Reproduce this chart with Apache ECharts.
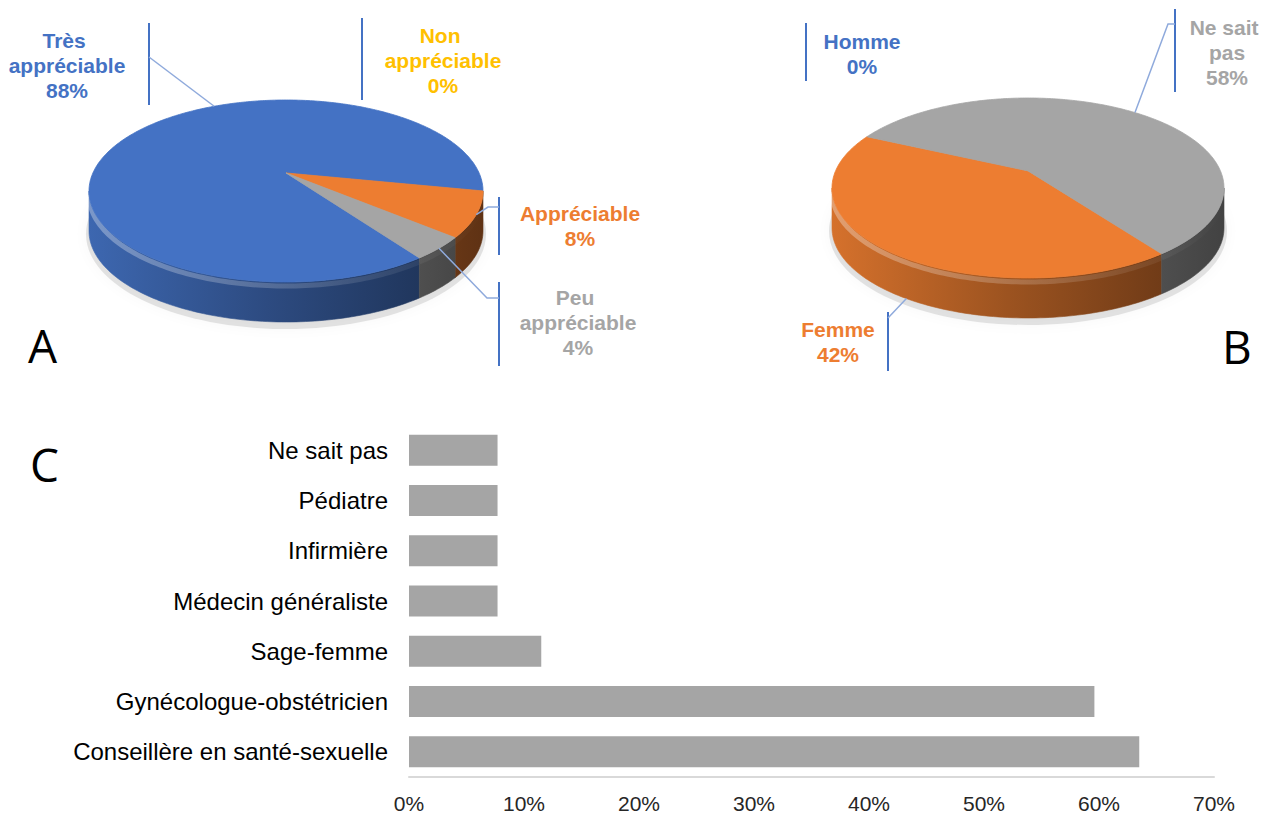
<!DOCTYPE html>
<html>
<head>
<meta charset="utf-8">
<script src="https://cdn.jsdelivr.net/npm/echarts@6/dist/echarts.min.js"></script>
<style>
  html, body { margin: 0; padding: 0; background: #ffffff; }
  #chart { width: 1272px; height: 814px; }
</style>
</head>
<body>
<div id="chart"></div>
<script>
// ---------------- DATA ----------------
const pieACategories = ['Très appréciable', 'Appréciable', 'Peu appréciable', 'Non appréciable'];
const pieAValues = [88, 8, 4, 0];
const pieAColors = ['#4472C4', '#ED7D31', '#A5A5A5', '#FFC000'];

const pieBCategories = ['Homme', 'Femme', 'Ne sait pas'];
const pieBValues = [0, 42, 58];
const pieBColors = ['#4472C4', '#ED7D31', '#A5A5A5'];

const barCategories = ['Conseillère en santé-sexuelle', 'Gynécologue-obstétricien', 'Sage-femme',
  'Médecin généraliste', 'Infirmière', 'Pédiatre', 'Ne sait pas'];
const barValues = [63.5, 59.6, 11.5, 7.7, 7.7, 7.7, 7.7];
const xAxisMin = 0, xAxisMax = 70, xAxisStep = 10;

const panelLetters = ['A', 'B', 'C'];

// ---------------- LAYOUT (positions / styles only) ----------------
// k = perspective strength of the tilted 3D pie
const pieAGeom = { cx: 286, cy: 191, rx: 197, ry: 91, depth: 40, k: 0.198, startDeg: 54.6 };
const pieBGeom = { cx: 1028, cy: 188, rx: 196, ry: 90, depth: 40, k: 0.19, startDeg: 54 };

const pieALabelLayout = [
  { tx: 67, ty: 65, w: 130, barX: 149, barY0: 23, barY1: 105, leadY: 57, anchorDeg: 244 },
  { tx: 580, ty: 226, w: 140, barX: 499, barY0: 197, barY1: 255, leadY: 207, elbowX: 488 },
  { tx: 578, ty: 322, w: 140, barX: 499, barY0: 282, barY1: 366, leadY: 298, elbowX: 487 },
  { tx: 443, ty: 60, w: 130, barX: 362, barY0: 18, barY1: 100 }
];
const pieBLabelLayout = [
  { tx: 862, ty: 54, w: 120, barX: 806, barY0: 23, barY1: 81 },
  { tx: 838, ty: 342, w: 120, barX: 888, barY0: 312, barY1: 371, leadY: 318, onBase: true, anchorDeg: 122 },
  { tx: 1227, ty: 52, w: 80, barX: 1175, barY0: 9, barY1: 92, leadY: 24, elbowX: 1168 }
];
const letterLayout = [
  { x: 28, y: 345 }, { x: 1222, y: 346 }, { x: 30, y: 464 }
];

const LABEL_FONT = '"Liberation Sans", Arial, Helvetica, sans-serif';

function shade(hex, f) {
  const n = parseInt(hex.slice(1), 16);
  const r = Math.min(255, Math.round(((n >> 16) & 255) * f));
  const g = Math.min(255, Math.round(((n >> 8) & 255) * f));
  const b = Math.min(255, Math.round((n & 255) * f));
  return 'rgb(' + r + ',' + g + ',' + b + ')';
}

function makePie3D(geom, names, values, colors, layout) {
  const total = values.reduce((a, b) => a + b, 0);
  const { cx, cy, rx, ry, depth, k } = geom;
  const a = rx * Math.sqrt(1 - k * k);
  // perspective projection of a point of the pie rim (angle t, clockwise from 3 o'clock)
  const pt = (t, dy) => {
    const s = Math.sin(t), c = Math.cos(t), w = 1 - k * s;
    return [cx + a * c / w, cy + ry * (s - k) / w + (dy || 0)];
  };
  const apex = [cx, cy - ry * k];
  const frontStart = Math.asin(k), frontEnd = Math.PI - Math.asin(k);
  return {
    type: 'custom',
    coordinateSystem: 'none',
    silent: true,
    animation: false,
    data: values.map(v => [v]),
    renderItem: function (params, api) {
      const i = params.dataIndex;
      const v = api.value(0);
      let before = 0;
      for (let j = 0; j < i; j++) before += values[j];
      const a0 = geom.startDeg * Math.PI / 180 + before / total * 2 * Math.PI;
      const a1 = a0 + v / total * 2 * Math.PI;
      const color = colors[i];
      const children = [];

      if (i === 0) {
        children.push({
          type: 'ellipse',
          shape: { cx: cx, cy: cy + depth + 3, rx: rx + 3, ry: ry + 4 },
          style: { fill: 'rgba(0,0,0,0.10)', shadowBlur: 12, shadowColor: 'rgba(0,0,0,0.30)' }
        });
      }

      if (v > 0) {
        const sideGrad = new echarts.graphic.LinearGradient(cx - rx, 0, cx + rx, 0, [
          { offset: 0, color: shade(color, 0.9) },
          { offset: 0.45, color: shade(color, 0.66) },
          { offset: 1, color: shade(color, 0.40) }
        ], true);
        const hlGrad = new echarts.graphic.LinearGradient(cx - rx, 0, cx + rx, 0, [
          { offset: 0, color: 'rgba(255,255,255,0.32)' },
          { offset: 0.5, color: 'rgba(255,255,255,0.18)' },
          { offset: 1, color: 'rgba(255,255,255,0.0)' }
        ], true);
        for (let m = -1; m <= 1; m++) {
          const s = Math.max(a0, 2 * Math.PI * m + frontStart);
          const e = Math.min(a1, 2 * Math.PI * m + frontEnd);
          if (e > s) {
            const top = [], bot = [];
            const n = Math.max(2, Math.ceil((e - s) / 0.02));
            for (let j = 0; j <= n; j++) {
              const t = s + (e - s) * j / n;
              top.push(pt(t, 0));
              bot.push(pt(t, depth));
            }
            children.push({
              type: 'polygon',
              shape: { points: top.concat(bot.slice().reverse()) },
              style: { fill: sideGrad, stroke: sideGrad, lineWidth: 0.6 }
            });
            children.push({
              type: 'polyline',
              shape: { points: top.map(p => [p[0], p[1] + 4]) },
              style: { stroke: hlGrad, lineWidth: 5, fill: null }
            });
          }
        }
        const face = [apex];
        const nf = Math.max(2, Math.ceil((a1 - a0) / 0.015));
        for (let j = 0; j <= nf; j++) face.push(pt(a0 + (a1 - a0) * j / nf, 0));
        children.push({
          type: 'polygon',
          shape: { points: face },
          style: { fill: color, stroke: color, lineWidth: 0.8, lineJoin: 'round' }
        });
      }

      const L = layout[i];
      children.push({
        type: 'line',
        shape: { x1: L.barX, y1: L.barY0, x2: L.barX, y2: L.barY1 },
        style: { stroke: '#4472C4', lineWidth: 2 }
      });
      if (v > 0 && L.leadY != null) {
        const t = L.anchorDeg != null ? L.anchorDeg * Math.PI / 180 : (a0 + a1) / 2;
        const p = pt(t, L.onBase ? depth : 0);
        const pts = [[L.barX, L.leadY]];
        if (L.elbowX != null) pts.push([L.elbowX, L.leadY]);
        pts.push(p);
        children.push({
          type: 'polyline',
          shape: { points: pts },
          style: { stroke: '#8FAADC', lineWidth: 1.5, fill: null }
        });
      }
      children.push({
        type: 'text',
        x: L.tx, y: L.ty,
        style: {
          text: names[i] + '\n' + v + '%',
          width: L.w,
          overflow: 'break',
          align: 'center',
          verticalAlign: 'middle',
          font: 'bold 21px ' + LABEL_FONT,
          lineHeight: 25,
          fill: color
        }
      });
      return { type: 'group', children: children };
    }
  };
}

const chart = echarts.init(document.getElementById('chart'), null, { renderer: 'svg' });

const option = {
  backgroundColor: '#ffffff',
  animation: false,
  grid: { left: 409, right: 58, top: 425, bottom: 36, containLabel: false },
  xAxis: {
    type: 'value',
    min: xAxisMin, max: xAxisMax, interval: xAxisStep,
    axisLine: { show: true, lineStyle: { color: '#D9D9D9', width: 2 } },
    axisTick: { show: false },
    splitLine: { show: false },
    axisLabel: {
      formatter: '{value}%',
      fontFamily: LABEL_FONT,
      fontSize: 21,
      color: '#262626',
      margin: 16
    }
  },
  yAxis: {
    type: 'category',
    data: barCategories,
    axisLine: { show: false },
    axisTick: { show: false },
    axisLabel: {
      fontFamily: LABEL_FONT,
      fontSize: 24,
      color: '#000000',
      margin: 21
    }
  },
  graphic: panelLetters.map((ch, i) => ({
    type: 'text',
    x: letterLayout[i].x,
    y: letterLayout[i].y,
    style: {
      text: ch,
      fontFamily: '"Open Sans", "Noto Sans", sans-serif',
      fontSize: 46,
      fill: '#000000',
      verticalAlign: 'middle',
      align: 'left'
    }
  })),
  series: [
    {
      type: 'bar',
      data: barValues,
      barWidth: 31,
      itemStyle: { color: '#A5A5A5' },
      silent: true
    },
    makePie3D(pieAGeom, pieACategories, pieAValues, pieAColors, pieALabelLayout),
    makePie3D(pieBGeom, pieBCategories, pieBValues, pieBColors, pieBLabelLayout)
  ]
};

chart.setOption(option);
</script>
</body>
</html>
